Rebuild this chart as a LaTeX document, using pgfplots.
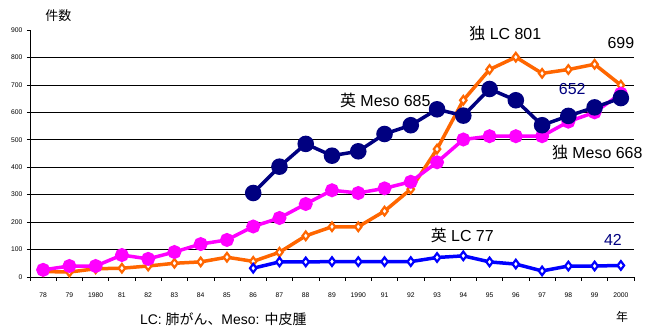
\documentclass[border=0pt]{standalone}
\usepackage{fontspec}
\setmainfont{Liberation Sans}
\newfontfamily\cjk{Noto Sans CJK JP}
\usepackage{pgfplots}
\pgfplotsset{compat=1.18}

\definecolor{lcde}{HTML}{FF6600}
\definecolor{mesouk}{HTML}{000080}
\definecolor{mesode}{HTML}{FF00FF}
\definecolor{lcuk}{HTML}{0000FF}

\begin{document}
\begin{tikzpicture}[annot/.style={font=\fontsize{16}{19}\selectfont}]
\begin{axis}[
  scale only axis,
  width=604bp, height=247bp,
  xmin=-0.5, xmax=22.5,
  ymin=0, ymax=900,
  clip=false,
  axis lines=left,
  axis line style={-, black, line width=0.8bp},
  tick align=outside,
  ytick={0,100,...,800},
  extra y ticks={900},
  extra y tick style={grid=none},
  ymajorgrids,
  grid style={black, line width=0.7bp},
  major tick length=3bp,
  minor tick length=4bp,
  xtick={0,...,22},
  xticklabels={78,79,1980,81,82,83,84,85,86,87,88,89,1990,91,92,93,94,95,96,97,98,99,2000},
  minor xtick={-0.5,0.5,...,22.5},
  major x tick style={draw=none},
  minor x tick style={black, line width=0.6bp},
  y tick style={black, line width=0.6bp},
  /pgf/number format/assume math mode=true,
  ticklabel style={font=\fontsize{6.8}{7}\selectfont},
  xticklabel style={yshift=-9bp},
  yticklabel style={xshift=-1bp},
  diam/.style={line width=3.5bp, mark=diamond*, mark size=4.3bp,
    mark options={fill=white, draw=#1, line width=2.2bp}},
]
\path (rel axis cs:0,0) coordinate (sw) (rel axis cs:1,1) coordinate (ne);

% Germany, lung cancer
\addplot[lcde, diam=lcde]
  coordinates {(0,20)(1,18)(2,30)(3,32)(4,40)(5,50)(6,55)(7,72)(8,57)(9,90)(10,150)
  (11,183)(12,183)(13,240)(14,320)(15,466)(16,644)(17,756)(18,801)(19,742)(20,756)(21,775)(22,699)};

% UK, lung cancer
\addplot[lcuk, diam=lcuk]
  coordinates {(8,32)(9,55)(10,55)(11,56)(12,56)(13,56)(14,56)(15,71)(16,77)(17,55)(18,47)(19,22)(20,40)(21,40)(22,42)};

% Germany, mesothelioma
\addplot[mesode, line width=3.5bp, mark=*, mark size=5.2bp]
  coordinates {(0,26)(1,40)(2,40)(3,80)(4,66)(5,91)(6,120)(7,135)(8,184)(9,215)(10,266)
  (11,316)(12,306)(13,323)(14,347)(15,418)(16,501)(17,513)(18,513)(19,513)(20,566)(21,600)(22,668)};

% UK, mesothelioma
\addplot[mesouk, line width=3.5bp, mark=*, mark size=6.5bp]
  coordinates {(8,306)(9,402)(10,485)(11,442)(12,458)(13,521)(14,553)(15,611)(16,588)(17,685)(18,644)(19,553)(20,587)(21,618)(22,652)};

\node[annot] at (axis cs:17.6,889) {{\cjk 独} LC 801};
\node[annot] at (axis cs:22.0,852) {699};
\node[annot] at (axis cs:13.03,645) {{\cjk 英} Meso 685};
\node[annot, text=mesouk] at (axis cs:20.15,685) {652};
\node[annot] at (axis cs:21.1,455) {{\cjk 独} Meso 668};
\node[annot] at (axis cs:15.96,152) {{\cjk 英} LC 77};
\node[annot, text=mesouk] at (axis cs:21.7,134) {42};

\node[font=\cjk\fontsize{13}{15}\selectfont] at (axis cs:0.58,951) {件数};
\node[font=\cjk\fontsize{12}{14}\selectfont] at (axis cs:22.05,-147) {年};
\node[font=\fontsize{14}{16}\selectfont] at (axis cs:6.86,-155) {LC: {\cjk 肺がん、}Meso: {\cjk 中皮腫}};
\end{axis}
\pgfresetboundingbox
\useasboundingbox ([shift={(-30bp,-51bp)}]sw) rectangle ([shift={(21bp,30bp)}]ne);
\end{tikzpicture}
\end{document}
